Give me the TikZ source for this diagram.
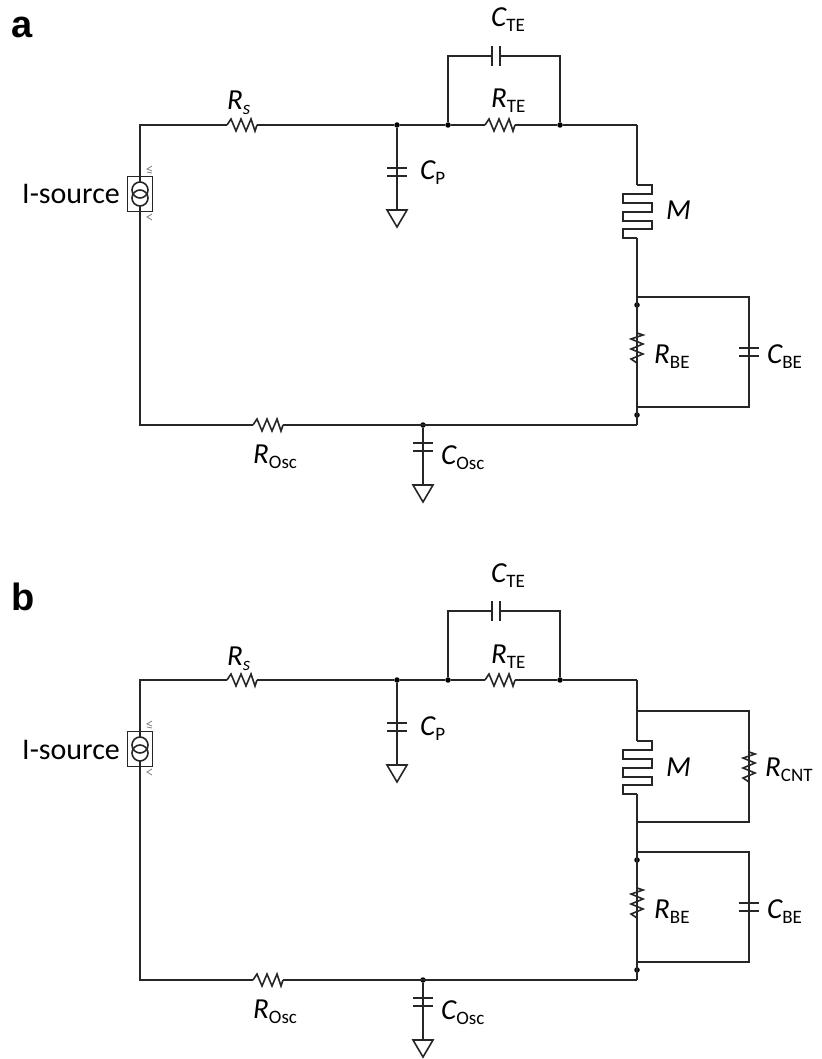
\documentclass[tikz,border=0pt]{standalone}
\usepackage{fontspec}
\setmainfont{Carlito}
\newfontfamily\panelfont{Liberation Sans}
\newcommand{\lab}[2]{{\itshape #1}{\fontsize{19}{19}\selectfont\raisebox{-5pt}{#2}}}
\tikzset{
  wire/.style={line width=1.6pt, draw=black!85},
  jct/.style={circle, fill=black, inner sep=0pt, minimum size=5.5pt},
  lbl/.style={anchor=base west, inner sep=0pt, font=\fontsize{29}{29}\selectfont},
  panel/.style={anchor=base west, inner sep=0pt, font=\panelfont\bfseries\fontsize{38}{38}\selectfont},
  res/.pic={
    \coordinate (-a) at (-15,0);
    \coordinate (-b) at (15,0);
    \draw[wire] (-15,0) -- (-11,-6) -- (-6,6) -- (-1,-6) -- (4,6) -- (9,-6) -- (13,6) -- (15,0);
  },
  cap/.pic={
    \coordinate (-a) at (-4,0);
    \coordinate (-b) at (4,0);
    \draw[wire] (-4,-10) -- (-4,10);
    \draw[wire] (4,-10) -- (4,10);
  },
  gnd/.pic={
    \coordinate (-a) at (0,0);
    \draw[wire] (-10,0) -- (10,0) -- (0,17) -- cycle;
  },
  mem/.pic={
    \coordinate (-a) at (0,-27);
    \coordinate (-b) at (0,26);
    \draw[wire] (0,-27) -- (15,-27) -- (15,-18) -- (-14,-18) -- (-14,-9) -- (15,-9) -- (15,0)
      -- (-14,0) -- (-14,9) -- (15,9) -- (15,17) -- (-14,17) -- (-14,26) -- (0,26);
  },
  isrc/.pic={
    \coordinate (-a) at (0,-12);
    \coordinate (-b) at (0,12);
    \draw[wire] (-12.5,-17.5) rectangle (12.5,17.5);
    \draw[wire] (0,-4) circle (8);
    \draw[wire] (0,4) circle (8);
    \draw[gray, line width=0.8pt] (12,-28) -- (7,-25) -- (12,-23) (7,-22) -- (12,-21);
    \draw[gray, line width=0.8pt] (12,20) -- (7,23) -- (12,26);
  },
}

\begin{document}
\begin{tikzpicture}[x=1pt, y=-1pt]
  \useasboundingbox (0,0) rectangle (821,1059);
  \node[panel] (a-tag) at (11,38) {a};
  \node[panel] (b-tag) at (11,610) {b};

  \foreach \p/\dy in {a/0, b/555} {
    \begin{scope}[shift={(0,\dy)}]
      \pic (\p-src) at (140,194) {isrc};
      \pic (\p-rs) at (242,125) {res};
      \pic (\p-rte) at (500,125) {res};
      \pic (\p-cte) at (496,56) {cap};
      \pic (\p-cp) at (397,172) [rotate=90] {cap};
      \pic (\p-gp) at (397,210) {gnd};
      \pic (\p-rbe) at (637,348) [rotate=90] {res};
      \pic (\p-cbe) at (749,352) [rotate=90] {cap};
      \pic (\p-rosc) at (268,425) {res};
      \pic (\p-cosc) at (423,447) [rotate=90] {cap};
      \pic (\p-gosc) at (423,485) {gnd};

      \node[jct] (\p-j1) at (397,125) {};
      \node[jct] (\p-j2) at (448,125) {};
      \node[jct] (\p-j3) at (560,125) {};
      \node[jct] (\p-j4) at (637,305) {};
      \node[jct] (\p-j5) at (637,415) {};
      \node[jct] (\p-j6) at (423,425) {};
      \coordinate (\p-tr) at (637,125);
      \coordinate (\p-pt) at (637,297);
      \coordinate (\p-br) at (637,425);
      \coordinate (\p-cb1) at (749,297);
      \coordinate (\p-cb2) at (749,407);
      \coordinate (\p-pb) at (637,407);

      \draw[wire] (\p-src-a) |- (\p-rs-a);
      \draw[wire] (\p-rs-b) -- (\p-j1);
      \draw[wire] (\p-j1) -- (\p-j2);
      \draw[wire] (\p-j2) -- (\p-rte-a);
      \draw[wire] (\p-rte-b) -- (\p-j3);
      \draw[wire] (\p-j3) -- (\p-tr);
      \draw[wire] (\p-j2) |- (\p-cte-a);
      \draw[wire] (\p-j3) |- (\p-cte-b);
      \draw[wire] (\p-j1) -- (\p-cp-a);
      \draw[wire] (\p-cp-b) -- (\p-gp-a);
      \draw[wire] (\p-pt) -- (\p-rbe-a);
      \draw[wire] (\p-rbe-b) -- (\p-br);
      \draw[wire] (\p-pt) -- (\p-cb1) -- (\p-cbe-a);
      \draw[wire] (\p-cbe-b) -- (\p-cb2) -- (\p-pb);
      \draw[wire] (\p-src-b) |- (\p-rosc-a);
      \draw[wire] (\p-rosc-b) -- (\p-br);
      \draw[wire] (\p-j6) -- (\p-cosc-a);
      \draw[wire] (\p-cosc-b) -- (\p-gosc-a);

      \node[lbl, font=\fontsize{30}{30}\selectfont] (\p-l0) at (22,204) {I-source};
      \node[lbl] (\p-l1) at (227,110) {\lab{R}{\itshape s}};
      \node[lbl] (\p-l2) at (491,27) {\lab{C}{TE}};
      \node[lbl] (\p-l3) at (491,108) {\lab{R}{TE}};
      \node[lbl] (\p-l4) at (420,180) {\lab{C}{P}};
      \node[lbl] (\p-l5) at (654,363) {\lab{R}{BE}};
      \node[lbl] (\p-l6) at (767,363) {\lab{C}{BE}};
      \node[lbl] (\p-l7) at (253,463) {\lab{R}{Osc}};
      \node[lbl] (\p-l8) at (441,464) {\lab{C}{Osc}};
    \end{scope}
  }

  % memristor branch, differs per panel
  \pic (a-mem) at (637,212) {mem};
  \draw[wire] (a-tr) -- (a-mem-a);
  \draw[wire] (a-mem-b) -- (a-pt);
  \node[lbl] (a-lm) at (666,220) {\lab{M}{}};

  \pic (b-mem) at (637,768) {mem};
  \pic (b-rcnt) at (749,767) [rotate=90] {res};
  \coordinate (b-t1) at (637,711);
  \coordinate (b-t2) at (749,711);
  \coordinate (b-t3) at (637,822);
  \coordinate (b-t4) at (749,822);
  \draw[wire] (b-tr) -- (b-t1);
  \draw[wire] (b-t1) -- (b-mem-a);
  \draw[wire] (b-mem-b) -- (b-t3);
  \draw[wire] (b-t3) -- (b-pt);
  \draw[wire] (b-t1) -- (b-t2) -- (b-rcnt-a);
  \draw[wire] (b-rcnt-b) -- (b-t4) -- (b-t3);
  \node[lbl] (b-lm) at (666,776) {\lab{M}{}};
  \node[lbl] (b-lr) at (765,776) {\lab{R}{CNT}};
\end{tikzpicture}
\end{document}
